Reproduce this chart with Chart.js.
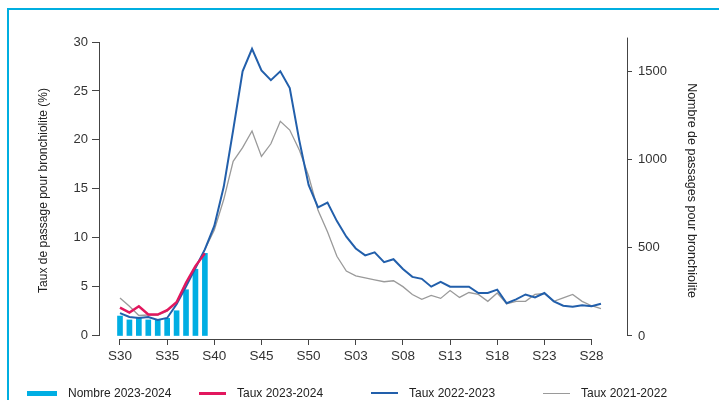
<!DOCTYPE html>
<html lang="fr">
<head>
<meta charset="UTF-8">
<title>Bronchiolite</title>
<script src="https://cdn.jsdelivr.net/npm/chart.js"></script>
<style>
    body { margin: 0; background: #fff; font-family: "Liberation Sans", Arial, Helvetica, sans-serif; }
    #wrap { position: relative; width: 719px; height: 400px; overflow: hidden; }
    #frame { position: absolute; left: 7px; top: 8px; width: 800px; height: 500px;
             border-left: 2px solid #00aee0; border-top: 2px solid #00aee0; }
    #chart { position: absolute; left: 0; top: 0; }
    .leg { position: absolute; top: 386px; height: 15px; font-size: 12px; line-height: 15px; color: #222; white-space: nowrap; }
    .leg span { position: absolute; top: 7px; }
    .leg b { position: absolute; font-weight: normal; top: 0; }
</style>
</head>
<body>
<div id="wrap">
    <div id="frame"></div>
    <canvas id="chart" width="719" height="400"></canvas>
    <div id="legend"></div>
</div>

<script>
    // semaines S30 -> S29
    var weeks = ['S30','S31','S32','S33','S34','S35','S36','S37','S38','S39','S40','S41','S42','S43','S44','S45','S46','S47','S48','S49','S50','S51','S52',
        'S01','S02','S03','S04','S05','S06','S07','S08','S09','S10','S11','S12','S13','S14','S15','S16','S17','S18','S19','S20','S21','S22','S23','S24','S25','S26','S27','S28','S29'];
    var xTicks = [0, 5, 10, 15, 20, 25, 30, 35, 40, 45, 50];
    var yTicks = [0, 5, 10, 15, 20, 25, 30];
    var y1Ticks = [0, 500, 1000, 1500];

    // Nombre de passages 2023-2024 (S30-S39)
    var nombre2324 = [113, 91, 106, 91, 94, 100, 143, 262, 378, 468];
    // Taux (%)
    var taux2324 = [2.85, 2.35, 3.0, 2.15, 2.15, 2.6, 3.4, 5.4, 7.1, 8.4];
    var taux2223 = [2.3, 1.9, 1.8, 1.9, 1.6, 1.8, 3.2, 5.0, 6.9, 8.8, 11.2, 15.2, 21.0, 27.0, 29.3, 27.1, 26.1, 27.0, 25.3, 20.0, 15.4, 13.1, 13.6,
        11.7, 10.1, 8.9, 8.2, 8.5, 7.5, 7.8, 6.8, 6.0, 5.8, 5.0, 5.5, 5.0, 5.0, 5.0, 4.35, 4.35, 4.7, 3.3, 3.7, 4.2, 3.9, 4.35, 3.5, 3.05, 2.95, 3.1, 3.0, 3.25];
    var taux2122 = [3.85, 3.0, 2.05, 2.1, 2.1, 2.5, 3.4, 5.4, 6.9, 8.8, 10.8, 13.9, 17.8, 19.2, 20.9, 18.3, 19.6, 21.9, 21.0, 19.0, 16.3, 12.8, 10.6,
        8.1, 6.6, 6.1, 5.9, 5.7, 5.5, 5.6, 5.0, 4.2, 3.7, 4.1, 3.8, 4.6, 3.9, 4.4, 4.2, 3.5, 4.35, 3.25, 3.5, 3.5, 4.2, 4.3, 3.5, 3.85, 4.2, 3.5, 3.05, 2.75];

    function pts(arr) {
        return arr.map(function (v, i) { return { x: i, y: v }; });
    }

    var font = '"Liberation Sans", Arial, Helvetica, sans-serif';
    var axisColor = '#444';

    // axes detachees (style R) tracees depuis les echelles
    var axisLines = {
        id: 'axisLines',
        afterDraw: function (chart) {
            var ctx = chart.ctx, area = chart.chartArea, s = chart.scales;
            ctx.save();
            ctx.strokeStyle = axisColor;
            ctx.lineWidth = 1;
            ctx.beginPath();
            ctx.moveTo(area.left - 0.5, s.y.getPixelForValue(0));
            ctx.lineTo(area.left - 0.5, s.y.getPixelForValue(30));
            ctx.moveTo(area.right + 0.5, s.y1.getPixelForValue(0));
            ctx.lineTo(area.right + 0.5, s.y1.getPixelForValue(1690));
            ctx.moveTo(s.x.getPixelForValue(0), area.bottom + 0.5);
            ctx.lineTo(s.x.getPixelForValue(50), area.bottom + 0.5);
            ctx.stroke();
            ctx.restore();
        }
    };

    var ctx = document.getElementById('chart').getContext('2d');
    var chart = new Chart(ctx, {
        type: 'line',
        data: {
            datasets: [{
                type: 'bar',
                label: 'Nombre 2023-2024',
                data: pts(nombre2324),
                yAxisID: 'y1',
                backgroundColor: '#00aee3',
                barThickness: 5,
                order: 4
            }, {
                label: 'Taux 2021-2022',
                data: pts(taux2122),
                yAxisID: 'y',
                borderColor: '#9a9a9a',
                borderWidth: 1.3,
                pointRadius: 0,
                tension: 0,
                order: 3
            }, {
                label: 'Taux 2022-2023',
                data: pts(taux2223),
                yAxisID: 'y',
                borderColor: '#225fab',
                borderWidth: 2,
                pointRadius: 0,
                tension: 0,
                order: 2
            }, {
                label: 'Taux 2023-2024',
                data: pts(taux2324),
                yAxisID: 'y',
                borderColor: '#e2175e',
                borderWidth: 2.5,
                pointRadius: 0,
                tension: 0,
                order: 1
            }]
        },
        options: {
            responsive: false,
            animation: false,
            devicePixelRatio: 1,
            layout: { padding: { top: 42, left: 0, right: 0, bottom: 0 } },
            plugins: { legend: { display: false }, tooltip: { enabled: false } },
            scales: {
                x: {
                    type: 'linear',
                    min: -2.12,
                    max: 53.76,
                    offset: false,
                    afterBuildTicks: function (s) { s.ticks = xTicks.map(function (v) { return { value: v }; }); },
                    afterFit: function (s) { s.height = 61; },
                    grid: { display: true, drawOnChartArea: false, color: axisColor, tickLength: 6, offset: false },
                    border: { display: false },
                    ticks: {
                        autoSkip: false, maxRotation: 0, padding: 3,
                        color: '#333', font: { family: font, size: 13.5 },
                        callback: function (v) { return weeks[v]; }
                    }
                },
                y: {
                    position: 'left',
                    min: -0.35,
                    max: 30,
                    afterBuildTicks: function (s) { s.ticks = yTicks.map(function (v) { return { value: v }; }); },
                    afterFit: function (s) { s.width = 100; },
                    grid: { display: true, drawOnChartArea: false, color: axisColor, tickLength: 8 },
                    border: { display: false },
                    ticks: {
                        padding: 4, color: '#333', font: { family: font, size: 13 },
                        callback: function (v) { return String(v); }
                    },
                    title: {
                        display: true,
                        text: 'Taux de passage pour bronchiolite (%)',
                        color: '#222',
                        font: { family: font, size: 12 },
                        padding: { top: 36, bottom: 0 }
                    }
                },
                y1: {
                    position: 'right',
                    min: -17,
                    max: 1665,
                    afterBuildTicks: function (s) { s.ticks = y1Ticks.map(function (v) { return { value: v }; }); },
                    afterFit: function (s) { s.width = 92; },
                    grid: { display: true, drawOnChartArea: false, color: axisColor, tickLength: 5 },
                    border: { display: false },
                    ticks: {
                        padding: 6, color: '#333', font: { family: font, size: 13 },
                        callback: function (v) { return String(v); }
                    },
                    title: {
                        display: true,
                        text: 'Nombre de passages pour bronchiolite',
                        color: '#222',
                        font: { family: font, size: 12.5 },
                        padding: { top: 20, bottom: 0 }
                    }
                }
            }
        },
        plugins: [axisLines]
    });

    // legende en colonnes egales
    var legendItems = [
        { text: 'Nombre 2023-2024', color: '#00aee3', h: 5, w: 30, left: 27 },
        { text: 'Taux 2023-2024', color: '#e2175e', h: 3, w: 27, left: 199 },
        { text: 'Taux 2022-2023', color: '#225fab', h: 2, w: 27, left: 371 },
        { text: 'Taux 2021-2022', color: '#9a9a9a', h: 1, w: 27, left: 543 }
    ];
    var legend = document.getElementById('legend');
    legendItems.forEach(function (it) {
        var d = document.createElement('div');
        d.className = 'leg';
        d.style.left = it.left + 'px';
        var sw = document.createElement('span');
        sw.style.left = '0px';
        sw.style.width = it.w + 'px';
        sw.style.height = it.h + 'px';
        sw.style.marginTop = (-Math.floor(it.h / 2)) + 'px';
        sw.style.background = it.color;
        var t = document.createElement('b');
        t.style.left = (it.w + 11) + 'px';
        t.textContent = it.text;
        d.appendChild(sw);
        d.appendChild(t);
        legend.appendChild(d);
    });
</script>
</body>
</html>
